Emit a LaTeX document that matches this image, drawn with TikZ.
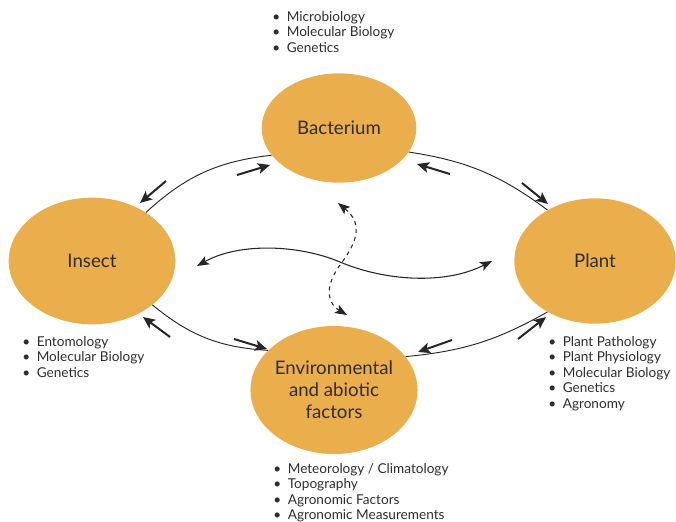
\documentclass[tikz,border=0pt]{standalone}
\usepackage{fontspec}
\setmainfont{Lato}
\usetikzlibrary{shapes.geometric, arrows.meta}
\definecolor{orng}{HTML}{EBAE4C}
\definecolor{ink}{HTML}{2E2E2E}
\tikzstyle{organism} = [ellipse, fill=orng, draw=none, inner sep=0pt, text=ink, font=\fontsize{14}{16.5}\selectfont, align=center]
\tikzstyle{topics} = [anchor=north west, inner sep=0pt, align=left, text=ink, font=\fontsize{10.2}{11.6}\selectfont]
\tikzstyle{link} = [draw=black!85, line width=0.7pt]
\tikzstyle{cue} = [draw=black!85, line width=1.5pt, -{Stealth[length=9pt,width=8pt,inset=2pt]}]
\tikzstyle{wave} = [draw=black!85, line width=0.8pt, {Stealth[length=9pt,width=7pt,inset=2pt]}-{Stealth[length=9pt,width=7pt,inset=2pt]}]
\newcommand{\itm}{\textbullet\hspace{5pt}}

\begin{document}
\begin{tikzpicture}[x=0.75pt, y=-0.75pt]
\useasboundingbox (0,0) rectangle (676,522);

% the four parts of the system
\node (bac) [organism, minimum width=116pt, minimum height=82pt] at (339,128) {Bacterium};
\node (ins) [organism, minimum width=125pt, minimum height=95pt] at (92,261) {Insect};
\node (pla) [organism, minimum width=121pt, minimum height=94pt] at (595,261) {Plant};
\node (env) [organism, minimum width=107pt, minimum height=96pt] at (334,390) {Environmental\\and abiotic\\factors};

% fields of study
\node (bacfields) [topics] at (272,11) {\itm Microbiology\\ \itm Molecular Biology\\ \itm Genetics};
\node (insfields) [topics] at (22,336) {\itm Entomology\\ \itm Molecular Biology\\ \itm Genetics};
\node (plafields) [topics] at (548,336) {\itm Plant Pathology\\ \itm Plant Physiology\\ \itm Molecular Biology\\ \itm Genetics\\ \itm Agronomy};
\node (envfields) [topics] at (273,463) {\itm Meteorology / Climatology\\ \itm Topography\\ \itm Agronomic Factors\\ \itm Agronomic Measurements};

% outer ring
\draw [link] (ins.42) to[bend left=18] (bac.202);
\draw [link] (bac.-19) to[bend left=14] (pla.133);
\draw [link] (ins.-36) to[bend right=18] (env.149);
\draw [link] (env.25) to[bend right=12] (pla.227);

% direction cues
\coordinate (c1a) at (166,181); \coordinate (c1b) at (140,203);
\coordinate (c2a) at (237,175); \coordinate (c2b) at (270,165);
\coordinate (c3a) at (450,174); \coordinate (c3b) at (417,164);
\coordinate (c4a) at (522,183); \coordinate (c4b) at (548,204);
\coordinate (c5a) at (170,337); \coordinate (c5b) at (143,317);
\coordinate (c6a) at (234,339); \coordinate (c6b) at (267,349);
\coordinate (c7a) at (452,340); \coordinate (c7b) at (418,352);
\coordinate (c8a) at (518,339); \coordinate (c8b) at (546,317);
\foreach \c in {1,...,8}
  \draw [cue] (c\c a) -- (c\c b);

% interactions across the middle
\coordinate (wl) at (197,266);
\coordinate (wr) at (492,261);
\coordinate (dt) at (338,203);
\coordinate (db) at (347,315);
\draw [wave] (wl) .. controls (240,242) and (300,245) .. (340,262) .. controls (385,281) and (445,285) .. (wr);
\draw [wave, dashed] (dt) .. controls (365,225) and (355,245) .. (340,265) .. controls (322,290) and (330,305) .. (db);

\end{tikzpicture}
\end{document}
